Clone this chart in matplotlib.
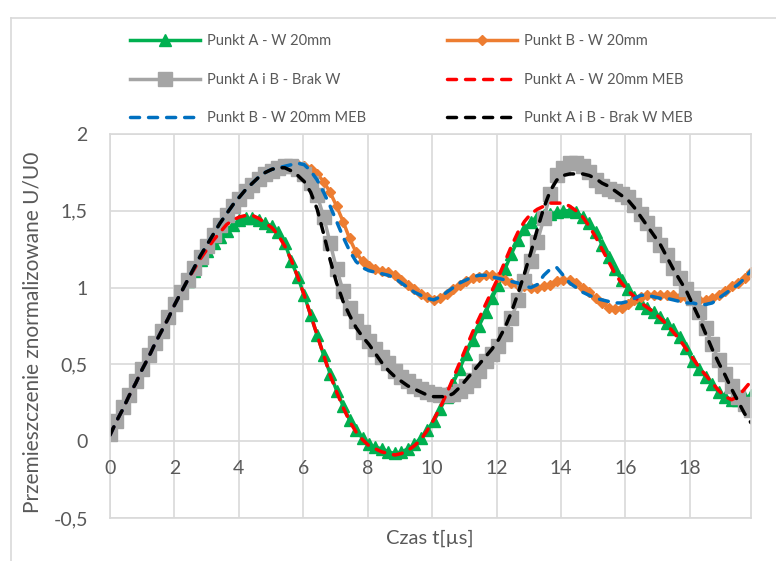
import numpy as np
import matplotlib
matplotlib.use("Agg")
import matplotlib.pyplot as plt
from matplotlib.lines import Line2D
from matplotlib.ticker import FuncFormatter, NullFormatter
from matplotlib.transforms import offset_copy

plt.rcParams['font.family'] = ['Lato', 'DejaVu Sans']

# --- data: time base (us), 100 samples ---
t = np.linspace(0, 19.9, 100)

punkt_a_w = [
    0.05, 0.13, 0.22, 0.30, 0.39, 0.47, 0.56, 0.64, 0.72, 0.81,
    0.89, 0.97, 1.04, 1.11, 1.18, 1.24, 1.29, 1.33, 1.37, 1.41,
    1.44, 1.45, 1.45, 1.44, 1.42, 1.40, 1.36, 1.29, 1.17, 1.07,
    0.95, 0.82, 0.69, 0.56, 0.44, 0.33, 0.23, 0.14, 0.07, 0.02,
    -0.02, -0.04, -0.05, -0.07, -0.08, -0.07, -0.05, -0.02, 0.02, 0.07,
    0.13, 0.21, 0.29, 0.38, 0.47, 0.57, 0.66, 0.75, 0.84, 0.93,
    1.02, 1.12, 1.22, 1.31, 1.38, 1.43, 1.46, 1.47, 1.48, 1.49,
    1.50, 1.50, 1.49, 1.46, 1.42, 1.36, 1.28, 1.20, 1.12, 1.05,
    0.99, 0.94, 0.90, 0.87, 0.84, 0.81, 0.77, 0.73, 0.68, 0.61,
    0.52, 0.47, 0.42, 0.37, 0.32, 0.29, 0.27, 0.27, 0.28, 0.30,
]

punkt_b_w = [
    0.05, 0.13, 0.22, 0.30, 0.39, 0.47, 0.56, 0.64, 0.72, 0.81,
    0.89, 0.97, 1.05, 1.13, 1.20, 1.27, 1.34, 1.41, 1.47, 1.53,
    1.58, 1.63, 1.67, 1.71, 1.74, 1.76, 1.78, 1.79, 1.80, 1.80,
    1.79, 1.77, 1.74, 1.69, 1.62, 1.53, 1.43, 1.32, 1.23, 1.17,
    1.14, 1.12, 1.11, 1.10, 1.08, 1.05, 1.02, 0.99, 0.96, 0.94,
    0.92, 0.93, 0.96, 0.99, 1.02, 1.04, 1.06, 1.07, 1.08, 1.08,
    1.07, 1.05, 1.03, 1.02, 1.01, 1.00, 1.00, 1.01, 1.02, 1.04,
    1.05, 1.05, 1.03, 1.00, 0.97, 0.93, 0.90, 0.87, 0.86, 0.87,
    0.89, 0.92, 0.94, 0.95, 0.95, 0.95, 0.95, 0.95, 0.94, 0.94,
    0.93, 0.92, 0.92, 0.93, 0.95, 0.98, 1.01, 1.03, 1.06, 1.10,
]

punkt_ab_brak = [
    0.05, 0.13, 0.22, 0.30, 0.39, 0.47, 0.56, 0.64, 0.72, 0.81,
    0.89, 0.97, 1.05, 1.13, 1.20, 1.27, 1.34, 1.41, 1.47, 1.53,
    1.58, 1.63, 1.67, 1.71, 1.74, 1.76, 1.78, 1.79, 1.79, 1.77,
    1.74, 1.68, 1.60, 1.46, 1.29, 1.12, 0.98, 0.87, 0.78, 0.71,
    0.65, 0.60, 0.55, 0.51, 0.46, 0.42, 0.39, 0.36, 0.34, 0.32,
    0.31, 0.30, 0.30, 0.31, 0.33, 0.36, 0.40, 0.46, 0.52, 0.57,
    0.62, 0.70, 0.80, 0.92, 1.04, 1.17, 1.30, 1.45, 1.61, 1.73,
    1.78, 1.81, 1.81, 1.79, 1.75, 1.70, 1.66, 1.64, 1.63, 1.61,
    1.59, 1.54, 1.48, 1.42, 1.35, 1.28, 1.21, 1.13, 1.06, 0.99,
    0.93, 0.84, 0.74, 0.63, 0.53, 0.44, 0.36, 0.29, 0.24, 0.20,
]

punkt_a_meb = [
    0.04, 0.13, 0.21, 0.30, 0.38, 0.47, 0.55, 0.64, 0.72, 0.80,
    0.89, 0.97, 1.05, 1.12, 1.19, 1.25, 1.31, 1.36, 1.41, 1.44,
    1.46, 1.47, 1.47, 1.45, 1.42, 1.39, 1.34, 1.27, 1.18, 1.07,
    0.95, 0.82, 0.69, 0.56, 0.43, 0.32, 0.22, 0.13, 0.06, 0.01,
    -0.03, -0.05, -0.07, -0.08, -0.09, -0.08, -0.06, -0.03, 0.01, 0.07,
    0.14, 0.22, 0.31, 0.41, 0.51, 0.61, 0.71, 0.80, 0.89, 0.98,
    1.07, 1.17, 1.27, 1.36, 1.43, 1.48, 1.51, 1.53, 1.55, 1.55,
    1.55, 1.53, 1.50, 1.46, 1.40, 1.33, 1.25, 1.17, 1.09, 1.03,
    0.98, 0.94, 0.90, 0.87, 0.84, 0.80, 0.76, 0.71, 0.66, 0.60,
    0.54, 0.48, 0.43, 0.38, 0.33, 0.29, 0.27, 0.29, 0.34, 0.39,
]

punkt_b_meb = [
    0.04, 0.13, 0.21, 0.30, 0.38, 0.47, 0.55, 0.64, 0.72, 0.80,
    0.89, 0.97, 1.05, 1.13, 1.21, 1.28, 1.35, 1.42, 1.48, 1.54,
    1.59, 1.64, 1.68, 1.72, 1.75, 1.77, 1.78, 1.79, 1.80, 1.81,
    1.80, 1.76, 1.70, 1.62, 1.53, 1.43, 1.33, 1.24, 1.17, 1.13,
    1.11, 1.10, 1.09, 1.08, 1.06, 1.03, 1.00, 0.97, 0.95, 0.93,
    0.92, 0.94, 0.97, 1.00, 1.03, 1.05, 1.07, 1.08, 1.08, 1.07,
    1.06, 1.05, 1.04, 1.03, 1.01, 1.00, 1.02, 1.08, 1.12, 1.13,
    1.08, 1.03, 1.00, 0.97, 0.95, 0.93, 0.92, 0.91, 0.90, 0.90,
    0.91, 0.93, 0.95, 0.95, 0.94, 0.93, 0.93, 0.92, 0.91, 0.90,
    0.90, 0.89, 0.89, 0.90, 0.93, 0.96, 0.99, 1.02, 1.06, 1.11,
]

punkt_ab_meb = [
    0.04, 0.13, 0.21, 0.30, 0.38, 0.47, 0.55, 0.64, 0.72, 0.80,
    0.89, 0.97, 1.05, 1.13, 1.21, 1.28, 1.35, 1.42, 1.48, 1.54,
    1.59, 1.64, 1.68, 1.72, 1.75, 1.77, 1.78, 1.78, 1.76, 1.73,
    1.69, 1.62, 1.51, 1.35, 1.18, 1.03, 0.91, 0.82, 0.74, 0.68,
    0.63, 0.57, 0.51, 0.46, 0.42, 0.39, 0.36, 0.34, 0.32, 0.30,
    0.29, 0.29, 0.29, 0.31, 0.35, 0.40, 0.45, 0.50, 0.55, 0.60,
    0.66, 0.74, 0.84, 0.96, 1.09, 1.23, 1.38, 1.52, 1.63, 1.70,
    1.73, 1.74, 1.74, 1.74, 1.73, 1.71, 1.68, 1.66, 1.63, 1.60,
    1.57, 1.52, 1.46, 1.40, 1.34, 1.28, 1.20, 1.12, 1.05, 0.98,
    0.89, 0.80, 0.70, 0.60, 0.51, 0.43, 0.34, 0.26, 0.18, 0.12,
]

labels = [
    "Punkt A - W 20mm",
    "Punkt B - W 20mm",
    "Punkt A i B - Brak W",
    "Punkt A - W 20mm MEB",
    "Punkt B - W 20mm MEB",
    "Punkt A i B - Brak W MEB",
]

x_ticks = [0, 2, 4, 6, 8, 10, 12, 14, 16, 18]
y_ticks = [-0.5, 0, 0.5, 1, 1.5, 2]

# --- plotting ---
W, H = 776, 561
fig = plt.figure(figsize=(W / 100, H / 100), dpi=100)
ax = fig.add_axes([110 / W, 1 - 518 / H, (751 - 110) / W, (518 - 134) / H])

grid_c = "#D9D9D9"
txt_c = "#595959"
lw = 2.5
dash = (2.6, 2.6)

h = []
h += ax.plot(t, punkt_a_w, color="#00B050", lw=lw, marker="^", ms=8,
             label=labels[0])
h += ax.plot(t, punkt_b_w, color="#ED7D31", lw=lw, marker="D", ms=5.5,
             label=labels[1])
h += ax.plot(t, punkt_ab_brak, color="#A5A5A5", lw=lw, marker="s", ms=9.5,
             label=labels[2])
h += ax.plot(t, punkt_a_meb, color="#FF0000", lw=lw, dashes=dash,
             dash_capstyle="round", label=labels[3])
h += ax.plot(t, punkt_b_meb, color="#0070C0", lw=lw, dashes=dash,
             dash_capstyle="round", label=labels[4])
h += ax.plot(t, punkt_ab_meb, color="#000000", lw=lw, dashes=dash,
             dash_capstyle="round", label=labels[5])

ax.set_xlim(0, 19.9)
ax.set_ylim(-0.5, 2)
ax.set_xticks(x_ticks)
ax.set_yticks(y_ticks)
fmt = FuncFormatter(lambda v, p: "{:g}".format(v).replace(".", ","))
ax.yaxis.set_major_formatter(fmt)
ax.xaxis.set_major_formatter(NullFormatter())

ax.grid(True, color=grid_c, lw=1.2)
ax.set_axisbelow(True)
for s in ax.spines.values():
    s.set_color(grid_c)
    s.set_linewidth(1.2)
ax.tick_params(axis="both", length=0, labelsize=14, labelcolor=txt_c)
ax.tick_params(axis="y", pad=16)

# horizontal axis crosses at 0: its labels sit just under the zero line
lab_tr = offset_copy(ax.transData, fig=fig, y=-27, units="dots")
for v in x_ticks:
    ax.text(v, 0, fmt(v, None), transform=lab_tr, ha="center", va="center",
            fontsize=14, color=txt_c)

fig.text(430 / W, 1 - 538 / H, "Czas t[µs]", ha="center", va="center",
         fontsize=14.5, color=txt_c)
fig.text(33 / W, 1 - 332 / H, "Przemieszczenie znormalizowane U/U0",
         ha="center", va="center", rotation=90, fontsize=15, color=txt_c)

# legend: row-wise order as in the chart
order = [0, 2, 4, 1, 3, 5]
fig.legend([h[i] for i in order], [labels[i] for i in order],
           loc="upper left", bbox_to_anchor=(117 / W, 1 - 21 / H), ncol=2,
           frameon=False, fontsize=10.5, handlelength=4.8, handletextpad=0.5,
           columnspacing=5.5, labelspacing=1.68, labelcolor=txt_c)

# chart area border
fig.add_artist(Line2D([11 / W, 11 / W], [0, 1 - 18 / H], color=grid_c, lw=1.2))
fig.add_artist(Line2D([11 / W, 1], [1 - 18 / H, 1 - 18 / H], color=grid_c, lw=1.2))

fig.savefig("out.png", dpi=100)
